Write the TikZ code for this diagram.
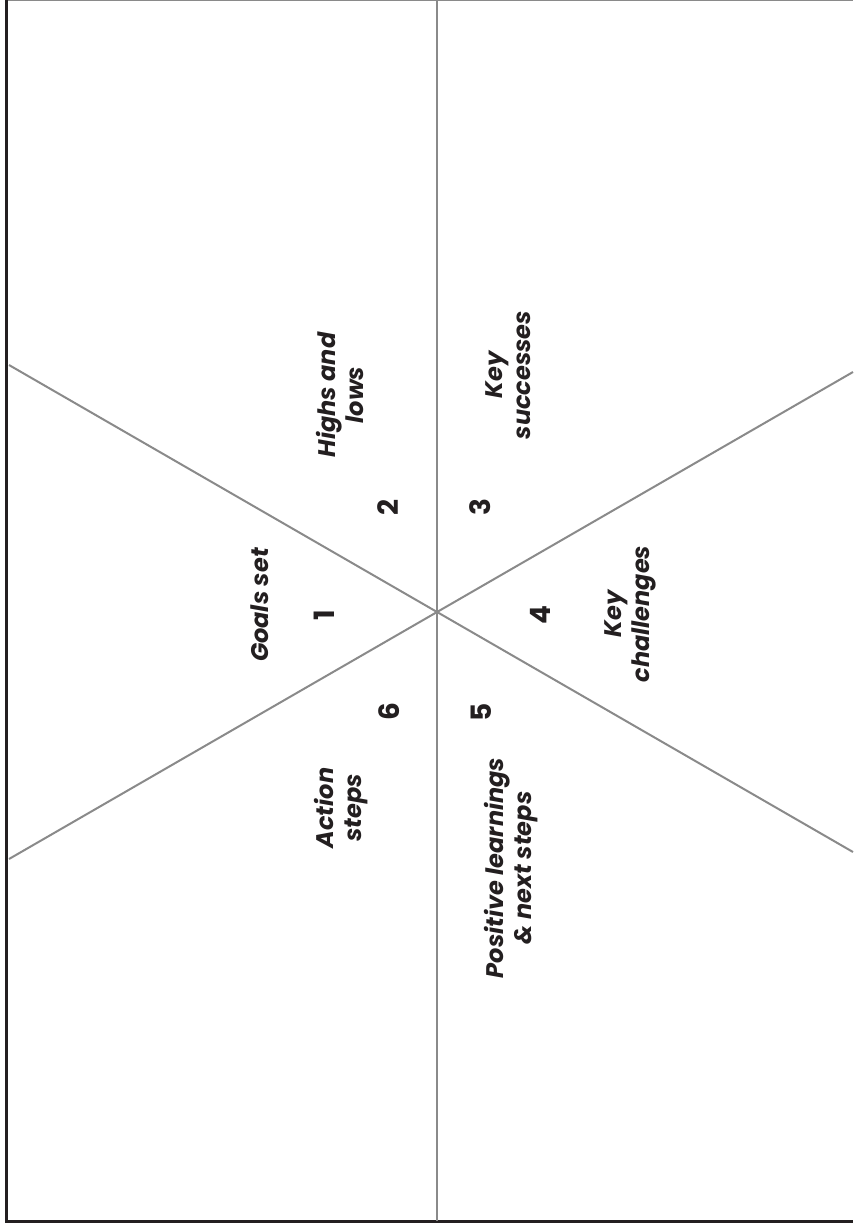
\documentclass[tikz,border=0pt]{standalone}
\usepackage{fontspec}
\setmainfont{Poppins}
\usetikzlibrary{positioning}
\definecolor{ink}{HTML}{231F20}
\definecolor{rule}{HTML}{8A8A8A}
\tikzset{
  divider/.style={line width=1pt,rule},
  edgeline/.style={line width=1.5pt,ink},
  seglabel/.style={rotate=90,align=center,inner sep=0pt,text=ink,
    font=\fontsize{12}{14}\selectfont\bfseries\itshape},
  segnum/.style={rotate=90,inner sep=0pt,text=ink,
    font=\fontsize{14}{16}\selectfont\bfseries}
}

\begin{document}
\begin{tikzpicture}[x=0.5pt,y=-0.5pt]
\useasboundingbox (0,0) rectangle (853,1223);
% frame
\coordinate (tl) at (6.5,0);
\coordinate (bl) at (6.5,1223);
\coordinate (tr) at (853,0.6);
\coordinate (br) at (853,1221.5);
\draw[line width=0.7pt,rule] (tl|-tr) -- (tr);
\draw[edgeline] (tl) -- (bl);
\draw[edgeline] (bl|-br) -- (br);
% the three dividers
\coordinate (c) at (436.5,612);
\coordinate (n) at (436.5,0);
\coordinate (s) at (436.5,1221);
\coordinate (nw) at (9,365);
\coordinate (se) at (853,852);
\coordinate (sw) at (9,859);
\coordinate (ne) at (853,372);
\draw[divider] (n) -- (s);
\draw[divider] (nw) -- (se);
\draw[divider] (sw) -- (ne);
% numbers
\node[segnum] (n1) at (324,615) {1};
\node[segnum] (n2) at (388,507) {2};
\node[segnum] (n3) at (480,507) {3};
\node[segnum] (n4) at (540,615) {4};
\node[segnum] (n5) at (481,712) {5};
\node[segnum] (n6) at (389,712) {6};
% segment texts
\node[seglabel] (goals) at (260,605) {Goals set};
\node[seglabel] (highs) at (340,395) {Highs and\\lows};
\node[seglabel] (succ) at (508,375) {Key\\successes};
\node[seglabel] (chall) at (630,614) {Key\\challenges};
\node[seglabel] (learn) at (511,868) {Positive learnings\\\& next steps};
\node[seglabel] (action) at (341,808) {Action\\steps};
\end{tikzpicture}
\end{document}
